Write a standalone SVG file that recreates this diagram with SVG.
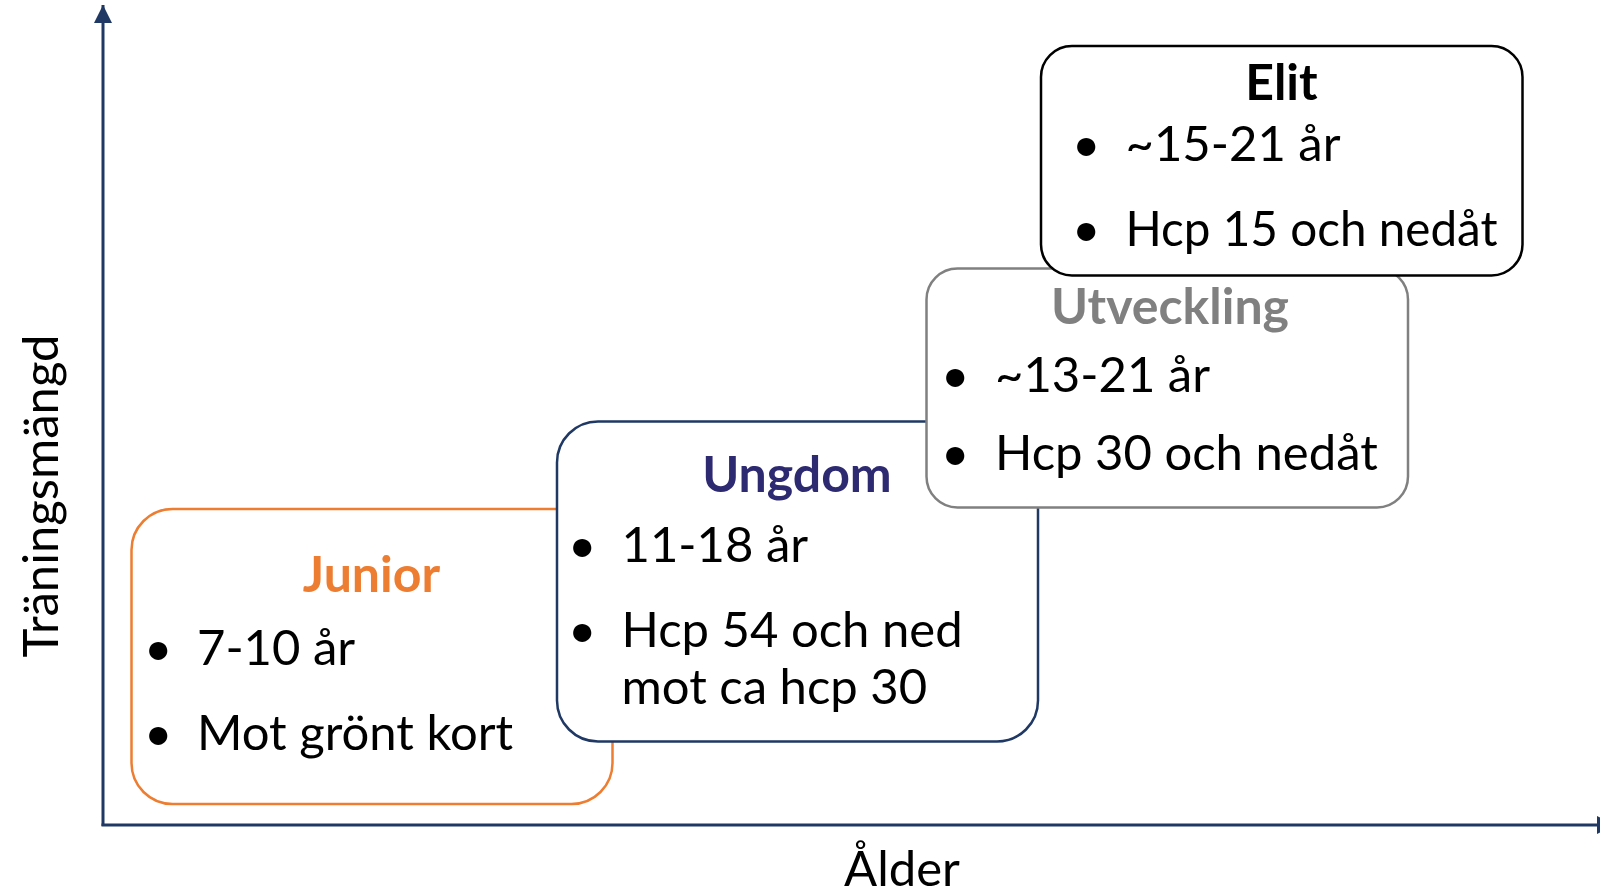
<svg xmlns="http://www.w3.org/2000/svg" width="1600" height="896" viewBox="0 0 1600 896">
<style>
.box{fill:#fff;stroke-width:2.5}
.t{font-family:Lato,"Liberation Sans",sans-serif;font-size:49px;fill:#000}
.h{font-family:Lato,"Liberation Sans",sans-serif;font-size:50px;font-weight:bold;text-anchor:middle}
.ax{stroke:#1f3864;stroke-width:3;fill:none}
</style>
<defs>
<marker id="arr" viewBox="0 0 18 18" refX="18" refY="9" markerWidth="18" markerHeight="18" orient="auto" markerUnits="userSpaceOnUse">
<path d="M0,0 L18,9 L0,18 z" fill="#1f3864"/>
</marker>
</defs>
<g id="axes">
<line class="ax" x1="103" y1="826" x2="103" y2="5" marker-end="url(#arr)"/>
<line class="ax" x1="101.5" y1="825" x2="1615" y2="825" marker-end="url(#arr)"/>
<text class="t" x="902" y="886" text-anchor="middle">Ålder</text>
<text class="t" font-size="51" transform="translate(58,496) rotate(-90)" text-anchor="middle">Träningsmängd</text>
</g>
<g id="junior">
<rect class="box" x="131.5" y="509" width="481" height="295" rx="41" stroke="#ed7d31"/>
<text class="h" x="371.5" y="592" fill="#ed7d31">Junior</text>
<text class="t" x="144" y="665">•</text><text class="t" x="197" y="665">7-10 år</text>
<text class="t" x="144" y="750">•</text><text class="t" x="197" y="750">Mot grönt kort</text>
</g>
<g id="ungdom">
<rect class="box" x="557" y="421.5" width="481" height="320" rx="41" stroke="#1f3864"/>
<text class="h" x="797" y="492" fill="#2e2a72">Ungdom</text>
<text class="t" x="568" y="562">•</text><text class="t" x="621.5" y="562">11-18 år</text>
<text class="t" x="568" y="647">•</text><text class="t" x="621.5" y="647">Hcp 54 och ned</text>
<text class="t" x="621.5" y="704">mot ca hcp 30</text>
</g>
<g id="utveckling">
<rect class="box" x="926.5" y="268.5" width="481.5" height="239" rx="31" stroke="#808080"/>
<text class="h" x="1170" y="324" fill="#808080">Utveckling</text>
<text class="t" x="941" y="392">•</text><text class="t" x="995" y="392">~13-21 år</text>
<text class="t" x="941" y="470">•</text><text class="t" x="995" y="470">Hcp 30 och nedåt</text>
</g>
<g id="elit">
<rect class="box" x="1041" y="46" width="481.5" height="229.5" rx="31" stroke="#000"/>
<text class="h" x="1281.5" y="100" fill="#000">Elit</text>
<text class="t" x="1072" y="161">•</text><text class="t" x="1125.5" y="161">~15-21 år</text>
<text class="t" x="1072" y="246">•</text><text class="t" x="1125.5" y="246" textLength="372" lengthAdjust="spacingAndGlyphs">Hcp 15 och nedåt</text>
</g>
</svg>
